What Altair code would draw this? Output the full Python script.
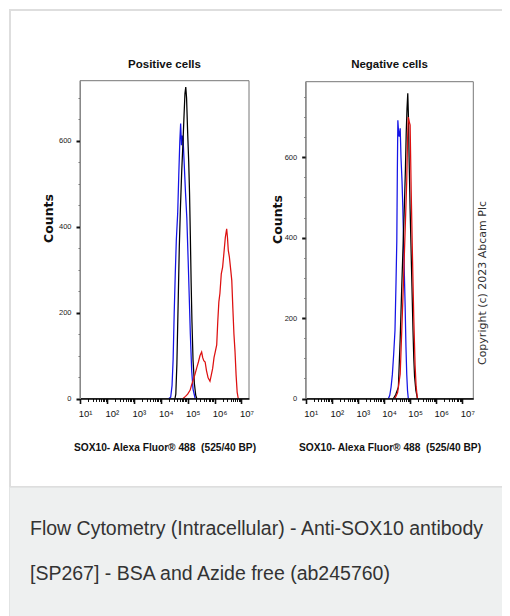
import altair as alt
import pandas as pd

W, H = 494, 608
SANS = "Liberation Sans"

# ---------------- data (log10 intensity, counts) ----------------
pos_blue_log = [4.30, 4.37, 4.42, 4.46, 4.50, 4.54, 4.58, 4.63, 4.67, 4.71, 4.74, 4.77, 4.80,
                4.83, 4.87, 4.92, 4.97, 5.02, 5.06, 5.10, 5.15, 5.20, 5.28]
pos_blue_cnt = [0, 3, 30, 90, 198, 290, 370, 431, 520, 600, 640, 590, 612,
                605, 550, 480, 420, 320, 236, 150, 65, 22, 0]

pos_black_log = [4.53, 4.56, 4.60, 4.65, 4.69, 4.73, 4.78, 4.82, 4.86, 4.90, 4.93, 4.96, 5.00,
                 5.04, 5.07, 5.10, 5.13, 5.16, 5.20, 5.25, 5.30, 5.34]
pos_black_cnt = [0, 10, 80, 230, 353, 440, 530, 586, 650, 710, 725, 700, 620,
                 550, 480, 380, 270, 180, 90, 35, 8, 0]

pos_red_log = [4.83, 4.92, 5.00, 5.09, 5.15, 5.22, 5.28, 5.34, 5.40, 5.46, 5.52, 5.56, 5.60,
               5.65, 5.70, 5.76, 5.83, 5.88, 5.93, 5.98, 6.03, 6.08, 6.12, 6.16, 6.20, 6.25,
               6.30, 6.35, 6.40, 6.45, 6.48, 6.51, 6.55, 6.60, 6.64, 6.68, 6.72, 6.76, 6.80,
               6.84, 6.88]
pos_red_cnt = [0, 5, 10, 19, 32, 45, 58, 72, 85, 100, 108, 95, 88,
               85, 65, 48, 40, 55, 70, 95, 110, 125, 180, 225, 245, 290,
               306, 340, 375, 395, 375, 345, 330, 300, 275, 210, 150, 110, 55,
               15, 0]

neg_blue_log = [4.17, 4.22, 4.27, 4.32, 4.37, 4.42, 4.46, 4.49, 4.51, 4.53, 4.56, 4.58, 4.62,
                4.65, 4.69, 4.72, 4.76, 4.81, 4.84, 4.87, 4.90, 4.93]
neg_blue_cnt = [0, 8, 28, 60, 110, 169, 290, 393, 560, 692, 660, 651, 672,
                600, 540, 476, 360, 227, 130, 61, 20, 0]

neg_black_log = [4.36, 4.45, 4.55, 4.62, 4.68, 4.73, 4.78, 4.82, 4.85, 4.88, 4.91, 4.94, 4.96,
                 5.00, 5.04, 5.07, 5.11, 5.14, 5.17, 5.22, 5.28]
neg_black_cnt = [0, 10, 28, 150, 279, 380, 478, 570, 660, 720, 759, 690, 600,
                 470, 360, 279, 170, 100, 55, 20, 0]

neg_red_log = [4.42, 4.52, 4.62, 4.68, 4.74, 4.80, 4.87, 4.90, 4.93, 4.96, 5.00, 5.04, 5.09,
               5.14, 5.19, 5.23, 5.28]
neg_red_cnt = [0, 15, 61, 170, 279, 400, 540, 640, 700, 690, 680, 520, 353,
               200, 83, 30, 0]

panel_titles = ["Positive cells", "Negative cells"]
x_title = "SOX10- Alexa Fluor\u00ae 488\u00a0 (525/40 BP)"
y_title = "Counts"
copyright_text = "Copyright (c) 2023 Abcam Plc"
caption_lines = ["Flow Cytometry (Intracellular) - Anti-SOX10 antibody",
                 "[SP267] - BSA and Azide free (ab245760)"]

decades = [1, 2, 3, 4, 5, 6, 7]
minor_mult = [1, 2, 3, 4, 5, 6, 7, 8, 9]
decade_labels = ["10\u00b9", "10\u00b2", "10\u00b3", "10\u2074", "10\u2075", "10\u2076", "10\u2077"]
major_x = [10 ** d for d in decades]
x_tick_values = [m * 10 ** d for d in decades for m in minor_mult if m * 10 ** d <= 10 ** 7]

colors = {"blue": "#1414e6", "red": "#dd1010", "black": "#000000"}


def df(logs, cnts):
    return pd.DataFrame({"x": [10 ** v for v in logs], "y": cnts})


# ---------------- layout (chart pixels) ----------------
panels = [
    dict(x0=72.0, x1=241.0, ytop=72.7, ybot=390.5, xmax=10 ** 7.28, ymax=740,
         yticks=list(range(0, 701, 50)), title_x=-28, title_y=210),
    dict(x0=297.7, x1=465.3, ytop=73.7, ybot=390.5, xmax=10 ** 7.42, ymax=788,
         yticks=list(range(0, 751, 50)), title_x=-24, title_y=211),
]

maj_arr = "[" + ",".join(str(v) for v in major_x) + "]"
lab_arr = "[" + ",".join("'" + s + "'" for s in decade_labels) + "]"
x_major_test = f"indexof({maj_arr}, datum.value) >= 0"
x_label_expr = f"{x_major_test} ? {lab_arr}[indexof({maj_arr}, datum.value)] : ''"
y_major_test = "datum.value % 200 == 0"


def x_axis(p):
    return alt.Axis(
        orient="bottom", offset=p["ybot"] - H, values=x_tick_values, labelExpr=x_label_expr,
        tickSize={"condition": {"test": x_major_test, "value": 5}, "value": 3},
        tickWidth={"condition": {"test": x_major_test, "value": 1.6}, "value": 1},
        tickColor="#111", domainColor="#000", domainWidth=1.6, grid=False,
        labelFont=SANS, labelFontSize=9.5, labelColor="#111", labelOffset=5, labelPadding=5,
        labelOverlap=False, labelFlush=False, labelBound=False,
        title=x_title, titleFont=SANS, titleFontSize=10.2, titleFontWeight="bold",
        titleColor="#111", titleY=52, titleBaseline="alphabetic", zindex=1)


def y_axis(p):
    return alt.Axis(
        orient="left", offset=-p["x0"], values=p["yticks"],
        labelExpr=f"{y_major_test} ? datum.label : ''",
        tickSize={"condition": {"test": y_major_test, "value": 4}, "value": 2},
        tickWidth={"condition": {"test": y_major_test, "value": 2}, "value": 1},
        tickColor={"condition": {"test": y_major_test, "value": "#111"}, "value": "#777"},
        domainColor="#888", domainWidth=1, grid=False,
        labelFont=SANS, labelFontSize=7.5, labelColor="#222", labelPadding=5,
        labelOverlap=False, labelFlush=False, labelBound=False,
        title=y_title, titleFont="DejaVu Sans", titleFontSize=12.5, titleFontWeight="bold",
        titleColor="#111", titleAngle=270, titleX=p["title_x"], titleY=p["title_y"],
        titleBaseline="alphabetic", titleAlign="center", zindex=1)


layers = []

# card and caption background (extend past the right/bottom edge like the cropped original)
layers.append(alt.Chart(pd.DataFrame({"k": [0]})).mark_rect(
    fill="white", stroke="#dedede", strokeWidth=2).encode(
    x=alt.value(2), x2=alt.value(W + 10), y=alt.value(2), y2=alt.value(479)))
layers.append(alt.Chart(pd.DataFrame({"k": [0]})).mark_rect(
    fill="#eef0f0", stroke="#e2e4e4", strokeWidth=1).encode(
    x=alt.value(1.5), x2=alt.value(W + 10), y=alt.value(479.5), y2=alt.value(H + 10)))

series_sets = [
    [("blue", pos_blue_log, pos_blue_cnt), ("black", pos_black_log, pos_black_cnt),
     ("red", pos_red_log, pos_red_cnt)],
    [("blue", neg_blue_log, neg_blue_cnt), ("black", neg_black_log, neg_black_cnt),
     ("red", neg_red_log, neg_red_cnt)],
]

for p, sset, ttl in zip(panels, series_sets, panel_titles):
    layers.append(alt.Chart(pd.DataFrame({"k": [0]})).mark_rect(
        fillOpacity=0, stroke="#777", strokeWidth=1).encode(
        x=alt.value(p["x0"]), x2=alt.value(p["x1"]), y=alt.value(p["ytop"]), y2=alt.value(p["ybot"])))
    xs = alt.Scale(type="log", domain=[10, p["xmax"]], range=[p["x0"], p["x1"]], nice=False)
    ys = alt.Scale(domain=[0, p["ymax"]], range=[p["ybot"], p["ytop"]], nice=False, zero=True)
    for i, (col, lg, ct) in enumerate(sset):
        first = i == 0
        layers.append(alt.Chart(df(lg, ct)).mark_line(
            color=colors[col], strokeWidth=1.25, clip=False).encode(
            x=alt.X("x:Q", scale=xs, axis=x_axis(p) if first else None),
            y=alt.Y("y:Q", scale=ys, axis=y_axis(p) if first else None),
            order="x:Q"))
    layers.append(alt.Chart(pd.DataFrame({"t": [ttl]})).mark_text(
        font=SANS, fontSize=11.5, fontWeight="bold", color="#111",
        align="center", baseline="alphabetic").encode(
        text="t:N", x=alt.value((p["x0"] + p["x1"]) / 2), y=alt.value(60)))

layers.append(alt.Chart(pd.DataFrame({"t": [copyright_text]})).mark_text(
    font="DejaVu Sans", fontSize=11, color="#333", angle=270,
    align="center", baseline="middle").encode(
    text="t:N", x=alt.value(474.5), y=alt.value(275)))

layers.append(alt.Chart(pd.DataFrame({"k": [0]})).mark_text(
    font=SANS, fontSize=19.5, color="#333", align="left",
    baseline="alphabetic", lineHeight=45).encode(
    text=alt.value(caption_lines), x=alt.value(22), y=alt.value(527)))

chart = alt.layer(*layers).resolve_scale(x="independent", y="independent").properties(
    width=W, height=H, autosize=alt.AutoSizeParams(type="none"), padding=0,
    background="white"
).configure_view(stroke=None)

chart.save("out.html", embed_options={"renderer": "svg", "actions": False})
